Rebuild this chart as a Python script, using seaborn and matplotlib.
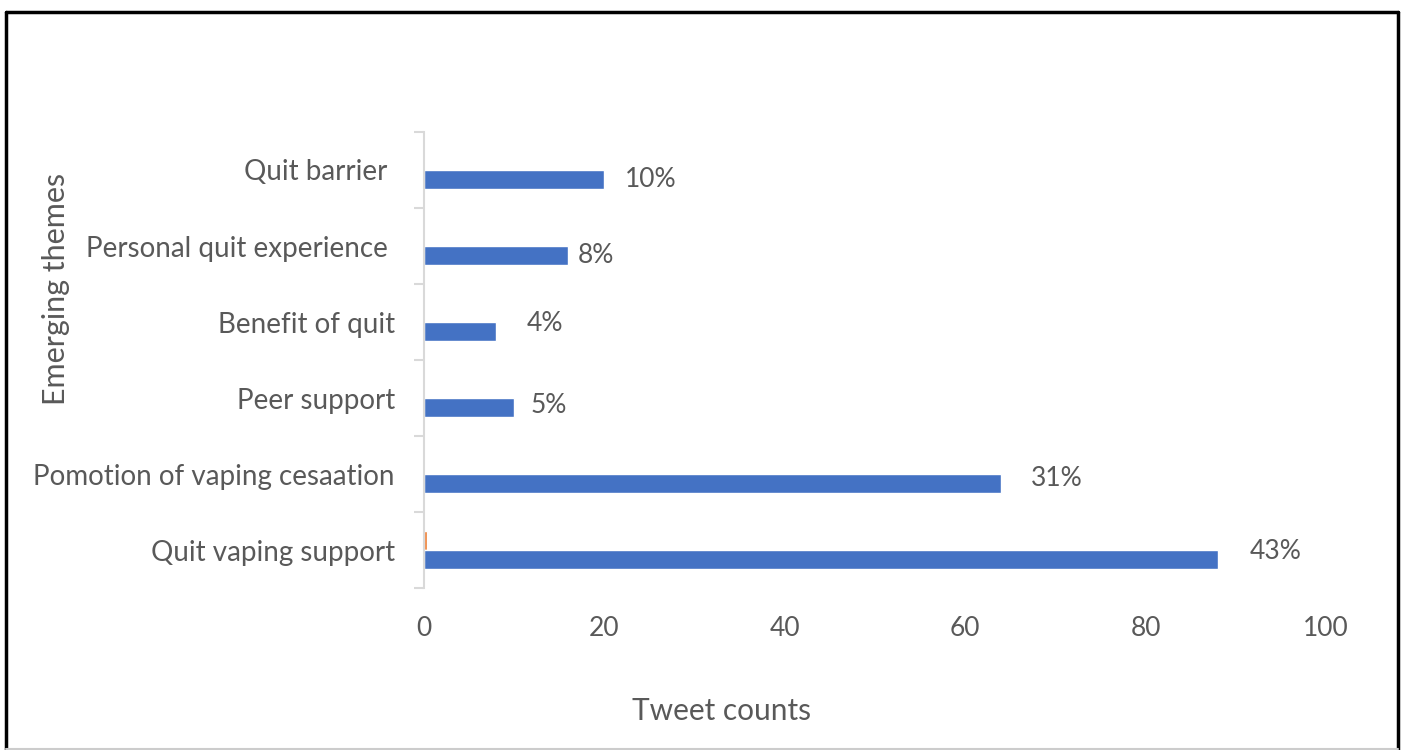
import numpy as np
import matplotlib.pyplot as plt
import pandas as pd
import seaborn as sns
from matplotlib.lines import Line2D

# data
themes = ['Quit barrier ', 'Personal quit experience ', 'Benefit of quit', 'Peer support',
          'Pomotion of vaping cesaation', 'Quit vaping support']
tweet_counts = [20, 16, 8, 10, 64, 88]
second_series = [0, 0, 0, 0, 0, 0.3]
pct_labels = ['10%', '8%', '4%', '5%', '31%', '43%']
x_ticks = [0, 20, 40, 60, 80, 100]

# label nudges (x in data units, y in category units)
lab_dx = [2.3, 1.1, 3.4, 1.8, 3.3, 3.5]
lab_dy = [0.0, 0.0, -0.1, -0.02, -0.06, -0.1]

df = pd.concat([
    pd.DataFrame({'theme': themes, 'count': second_series, 'series': 's1'}),
    pd.DataFrame({'theme': themes, 'count': tweet_counts, 'series': 's2'}),
])

sns.set_style('white')
plt.rcParams['font.family'] = ['Lato', 'DejaVu Sans']
grey = '#595959'

fig = plt.figure(figsize=(14.06, 7.5), dpi=100)
ax = fig.add_axes([424 / 1406, 1 - 588 / 750, 902 / 1406, 456 / 750])

sns.barplot(data=df, y='theme', x='count', hue='series', hue_order=['s1', 's2'],
            order=themes, palette=['#ED7D31', '#4472C4'], width=0.5,
            orient='h', ax=ax, legend=False, saturation=1)

ax.set_xlim(0, 100)
ax.set_ylim(len(themes) - 0.5, -0.5)
ax.set_xticks(x_ticks)
ax.tick_params(axis='x', length=0, labelsize=19, labelcolor=grey, pad=20)
ax.tick_params(axis='y', which='major', length=0, labelsize=20, labelcolor=grey, pad=21)
ax.set_yticks(np.arange(-0.5, len(themes)), minor=True)
ax.tick_params(axis='y', which='minor', left=True, length=7, color='#d9d9d9', width=1.5)

for s in ['top', 'right', 'bottom']:
    ax.spines[s].set_visible(False)
ax.spines['left'].set_color('#d9d9d9')
ax.spines['left'].set_linewidth(1.5)

for i, (v, lab) in enumerate(zip(tweet_counts, pct_labels)):
    ax.text(v + lab_dx[i], i + 0.125 + lab_dy[i], lab, va='center', ha='left',
            fontsize=19, color=grey)

ax.set_xlabel('Tweet counts', fontsize=21.5, color=grey)
ax.xaxis.set_label_coords(0.33, -0.24)
ax.set_ylabel('Emerging themes', fontsize=22, color=grey)
ax.yaxis.set_label_coords(-0.392, 0.655)

# frame around the picture
W, H = 1406, 750
fig.add_artist(Line2D([6 / W, 6 / W], [1 - 12 / H, 0], color='black', lw=2.5))
fig.add_artist(Line2D([1398 / W, 1398 / W], [1 - 12 / H, 0], color='black', lw=2.5))
fig.add_artist(Line2D([6 / W, 1398 / W], [1 - 12 / H, 1 - 12 / H], color='black', lw=2.5))
fig.add_artist(Line2D([6 / W, 1398 / W], [1.5 / H, 1.5 / H], color='#cccccc', lw=1.5))

fig.savefig('out.png', dpi=100)
